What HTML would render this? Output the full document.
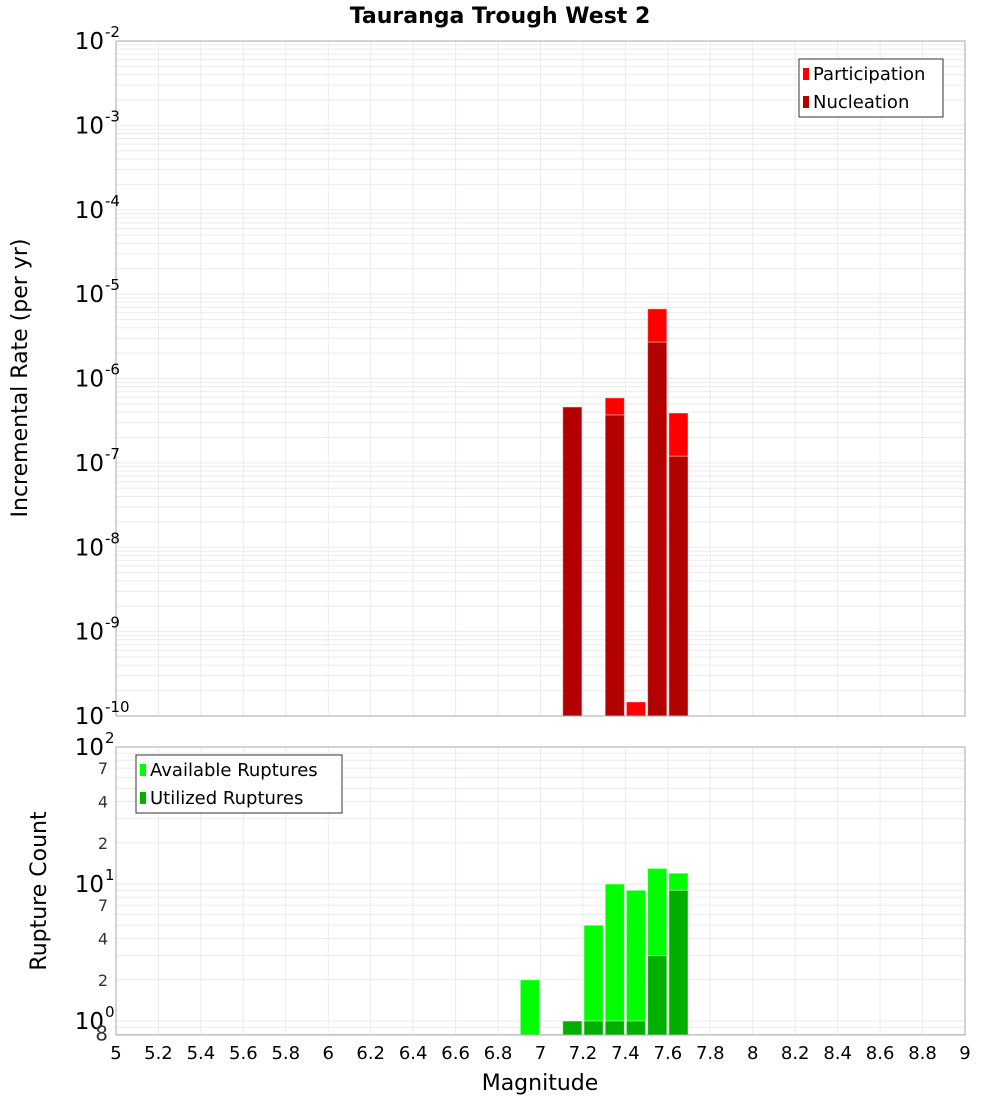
<!DOCTYPE html>
<html><head><meta charset="utf-8"><style>
body{margin:0;background:#fff;font-family:"Liberation Sans","DejaVu Sans",sans-serif}
svg text{font-family:"DejaVu Sans","Liberation Sans",sans-serif}
</style></head><body>
<svg id="c" width="1000" height="1100" xmlns="http://www.w3.org/2000/svg">
<text x="500" y="23" text-anchor="middle" font-size="22" font-weight="bold">Tauranga Trough West 2</text>
<text transform="translate(27,378) rotate(-90)" text-anchor="middle" font-size="22">Incremental Rate (per yr)</text>
<text transform="translate(46,891) rotate(-90)" text-anchor="middle" font-size="22">Rupture Count</text>
<text x="540" y="1090" text-anchor="middle" font-size="22">Magnitude</text>
<g id="g"></g>
</svg>
<script>
const mags=[6.95,7.15,7.25,7.35,7.45,7.55,7.65];
const participation=[0,4.6e-7,0,5.9e-7,1.47e-10,6.7e-6,3.9e-7];
const nucleation=[0,4.6e-7,0,3.7e-7,0,2.7e-6,1.2e-7];
const available=[2,1,5,10,9,13,12];
const utilized=[0,1,1,1,1,3,9];
const xTicks=["5","5.2","5.4","5.6","5.8","6","6.2","6.4","6.6","6.8","7","7.2","7.4","7.6","7.8","8","8.2","8.4","8.6","8.8","9"];
const topExps=[-2,-3,-4,-5,-6,-7,-8,-9,-10];

const NS="http://www.w3.org/2000/svg";const G=document.getElementById('g');
function el(t,a,p){const e=document.createElementNS(NS,t);for(const k in a)e.setAttribute(k,a[k]);(p||G).appendChild(e);return e;}
const X0=116,X1=965;
const x=m=>X0+(m-5)/4*(X1-X0);
const T0=41,T1=716;
const yT=v=>T0+(-2-Math.log10(v))/8*(T1-T0);
const B0=747,B1=1035,BD=137;
const yB=v=>1021-Math.log10(v)*BD;
// grids
function grid(top,bot,yf,lo,hi){
  for(let e=lo;e<hi;e++)for(let k=1;k<10;k++){const v=k*Math.pow(10,e);const y=yf(v);if(y>=top&&y<=bot){const l=el('line',{x1:X0,x2:X1,y1:y,y2:y,stroke:'#ebebeb','stroke-width':1});}}
  xTicks.forEach(t=>{const xx=x(+t);const l=el('line',{x1:xx,x2:xx,y1:top,y2:bot,stroke:'#ebebeb','stroke-width':1});});
}
grid(T0,T1,yT,-10,-2);grid(B0,B1,yB,-1,2);
function bar(m,v,yf,base,fill,name){if(!v)return;const x0=x(m-0.05)+1,x1=x(m+0.05)-1;const y=yf(v);const r=el('rect',{x:x0,y:y,width:x1-x0,height:base-y,fill:fill,stroke:'#fff','stroke-opacity':0.5,'stroke-width':1});}
mags.forEach((m,i)=>{bar(m,participation[i],yT,T1,'#ff0000','participation-bar');bar(m,nucleation[i],yT,T1,'#b30000','nucleation-bar');
 bar(m,available[i],yB,B1,'#00ff00','available-bar');bar(m,utilized[i],yB,B1,'#00b000','utilized-bar');});
[[T0,T1],[B0,B1]].forEach(([a,b])=>{const r=el('rect',{x:X0,y:a,width:X1-X0,height:b-a,fill:'none',stroke:'#aaa'});});
// top y labels
topExps.forEach(e=>{const y=yT(Math.pow(10,e));const t=el('text',{x:104,y:y+8,'text-anchor':'end','font-size':23});t.textContent='10';const s=el('text',{x:105,y:y-4,'font-size':15});s.textContent=String(e);});
// bottom y labels
[[100,'2'],[10,'1'],[1,'0']].forEach(([v,e])=>{const y=yB(v);const t=el('text',{x:104,y:y+8,'text-anchor':'end','font-size':23});t.textContent='10';const s=el('text',{x:105,y:y-4,'font-size':15});s.textContent=e;});
[70,40,20,7,4,2,0.8].forEach(v=>{const y=yB(v);const t=el('text',{x:108,y:y+6,'text-anchor':'end','font-size':v===0.8?20:16,fill:'#333'});t.textContent=String(v).replace(/^\d+$/,m=>m[0]).replace('0.8','8');});
xTicks.forEach(s=>{const t=el('text',{x:x(+s),y:1059,'text-anchor':'middle','font-size':18});t.textContent=s;});
// legends
function legend(bx,by,w,items,name){const r=el('rect',{x:bx,y:by,width:w,height:58,fill:'#fff',stroke:'#333'});
 items.forEach(([c,l],i)=>{const sw=el('rect',{x:bx+4,y:by+9+i*28,width:6,height:12,fill:c});const t=el('text',{x:bx+14,y:by+21+i*28,'font-size':18});t.textContent=l;});}
legend(799,59,144,[['#ff0000','Participation'],['#b30000','Nucleation']],'top-legend');
legend(136,755,206,[['#00ff00','Available Ruptures'],['#00b000','Utilized Ruptures']],'bottom-legend');
</script>
</body></html>
